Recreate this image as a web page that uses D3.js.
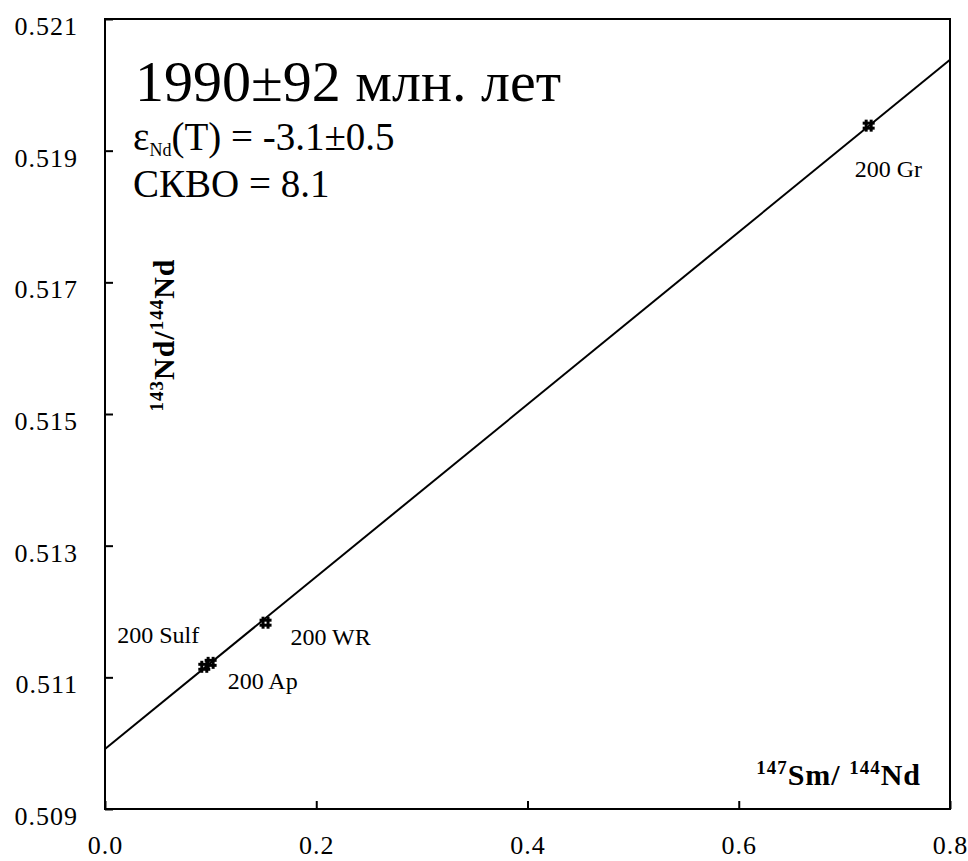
<!DOCTYPE html>
<html>
<head>
<meta charset="utf-8">
<script src="https://cdn.jsdelivr.net/npm/d3@7"></script>
<style>
  body { margin: 0; background: #fff; }
  svg text { font-family: "Liberation Serif", "Times New Roman", serif; fill: #000; }
</style>
</head>
<body>
<div id="chart"></div>
<script>
(function() {
  // samples (label, 147Sm/144Nd, 143Nd/144Nd)
  var sampleNames = ['200 Sulf', '200 Ap', '200 WR', '200 Gr'];
  var smNd = [0.094, 0.100, 0.152, 0.723];
  var ndNd = [0.51116, 0.51122, 0.51183, 0.51938];

  // isochron fit: intercept and slope
  var isoIntercept = 0.50991;
  var isoSlope = 0.01309;

  var xTicks = [0.0, 0.2, 0.4, 0.6, 0.8];
  var yTicks = [0.509, 0.511, 0.513, 0.515, 0.517, 0.519, 0.521];

  var width = 968,
      height = 861,
      margin = {left: 105, right: 18, top: 19, bottom: 52};

  var x = d3.scaleLinear().domain([0, 0.8]).range([margin.left, width - margin.right]);
  var y = d3.scaleLinear().domain([0.509, 0.521]).range([height - margin.bottom, margin.top]);

  var svg = d3.select('#chart').append('svg')
      .attr('width', width)
      .attr('height', height);

  // frame
  svg.append('rect')
      .attr('x', x(0)).attr('y', y(0.521))
      .attr('width', x(0.8) - x(0))
      .attr('height', y(0.509) - y(0.521))
      .attr('fill', 'none')
      .attr('stroke', '#000')
      .attr('stroke-width', 2);

  // axes with inner ticks
  var xAxis = svg.append('g')
      .attr('transform', 'translate(0,' + y(0.509) + ')')
      .call(d3.axisBottom(x).tickValues(xTicks).tickFormat(d3.format('.1f'))
        .tickSizeInner(-8).tickSizeOuter(0).tickPadding(27));
  xAxis.select('.domain').remove();
  xAxis.selectAll('.tick line').attr('stroke-width', 2);
  xAxis.selectAll('.tick text').attr('font-size', 26).attr('letter-spacing', 1);

  var yAxis = svg.append('g')
      .attr('transform', 'translate(' + x(0) + ',0)')
      .call(d3.axisLeft(y).tickValues(yTicks).tickFormat(d3.format('.3f'))
        .tickSizeInner(-8).tickSizeOuter(0).tickPadding(27));
  yAxis.select('.domain').remove();
  yAxis.selectAll('.tick line').attr('stroke-width', 2);
  yAxis.selectAll('.tick text').attr('font-size', 26).attr('letter-spacing', 1)
      .attr('dy', '0.6em');

  // isochron line
  svg.append('line')
      .attr('x1', x(0)).attr('y1', y(isoIntercept))
      .attr('x2', x(0.8)).attr('y2', y(isoIntercept + isoSlope * 0.8))
      .attr('stroke', '#000')
      .attr('stroke-width', 2);

  // "#" markers
  var data = sampleNames.map(function(n, i) { return {name: n, sm: smNd[i], nd: ndNd[i]}; });
  var marks = svg.selectAll('g.pt').data(data).enter().append('g')
      .attr('class', 'pt')
      .attr('transform', function(d) { return 'translate(' + x(d.sm) + ',' + y(d.nd) + ')'; });
  [-2.5, 2.5].forEach(function(o) {
    marks.append('line').attr('x1', -6).attr('x2', 6).attr('y1', o).attr('y2', o)
        .attr('stroke', '#000').attr('stroke-width', 3);
    marks.append('line').attr('x1', o).attr('x2', o).attr('y1', -6).attr('y2', 6)
        .attr('stroke', '#000').attr('stroke-width', 3);
  });

  // sample labels
  var labelOffsets = {
    '200 Sulf': [-46, -24],
    '200 Ap': [17, 26],
    '200 WR': [25, 22],
    '200 Gr': [-14, 51]
  };
  svg.selectAll('text.lbl').data(data).enter().append('text')
      .attr('class', 'lbl')
      .attr('x', function(d) { return x(d.sm) + labelOffsets[d.name][0]; })
      .attr('y', function(d) { return y(d.nd) + labelOffsets[d.name][1]; })
      .attr('font-size', 24)
      .attr('text-anchor', function(d) { return d.name === '200 Sulf' ? 'middle' : 'start'; })
      .text(function(d) { return d.name; });

  // annotation block
  svg.append('text')
      .attr('x', 135).attr('y', 101)
      .attr('font-size', 58)
      .text('1990±92 млн. лет');

  var eps = svg.append('text')
      .attr('x', 133).attr('y', 150)
      .attr('font-size', 39);
  eps.append('tspan').text('ε');
  eps.append('tspan').attr('font-size', 18).attr('dy', 6).text('Nd');
  eps.append('tspan').attr('dy', -6).text('(T) = -3.1±0.5');

  svg.append('text')
      .attr('x', 133).attr('y', 197)
      .attr('font-size', 39)
      .text('СКВО = 8.1');

  // axis titles
  var xt = svg.append('text')
      .attr('x', 921).attr('y', 785)
      .attr('text-anchor', 'end')
      .attr('font-weight', 'bold')
      .attr('letter-spacing', 1)
      .attr('font-size', 30);
  xt.append('tspan').attr('font-size', 19).attr('dy', -11).text('147');
  xt.append('tspan').attr('dy', 11).text('Sm/ ');
  xt.append('tspan').attr('font-size', 19).attr('dy', -11).text('144');
  xt.append('tspan').attr('dy', 11).text('Nd');

  var yt = svg.append('text')
      .attr('transform', 'translate(174,335) rotate(-90)')
      .attr('text-anchor', 'middle')
      .attr('font-weight', 'bold')
      .attr('letter-spacing', 1)
      .attr('font-size', 30);
  yt.append('tspan').attr('font-size', 19).attr('dy', -11).text('143');
  yt.append('tspan').attr('dy', 11).text('Nd/');
  yt.append('tspan').attr('font-size', 19).attr('dy', -11).text('144');
  yt.append('tspan').attr('dy', 11).text('Nd');
})();
</script>
</body>
</html>
